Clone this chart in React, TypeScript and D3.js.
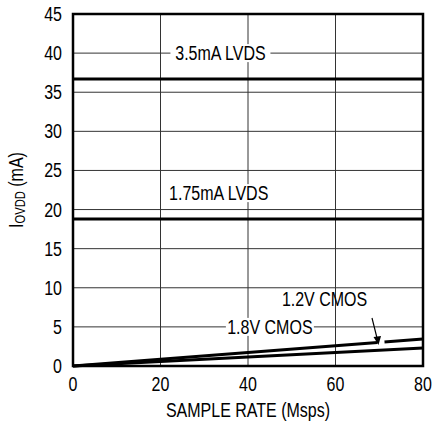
import React from "react";
import * as d3 from "d3";

const xTicks = [0, 20, 40, 60, 80];
const yTicks = [0, 5, 10, 15, 20, 25, 30, 35, 40, 45];
const rates = [0, 80];
const lvds35 = [36.7, 36.7];
const lvds175 = [18.8, 18.8];
const cmos18 = [0, 3.45];
const cmos12 = [0, 2.3];

const W = 433, H = 423;
const M = { left: 73, right: 423, top: 14, bottom: 366 };
const FONT = "'Liberation Sans', Arial, sans-serif";
const SX = 0.8;
const FS = 20;

function T({ x, y, anchor = "start", children, size = FS }: any) {
  return (
    <text transform={`translate(${x},${y}) scale(${SX},1)`} textAnchor={anchor} fontSize={size} fontFamily={FONT} fill="#000">
      {children}
    </text>
  );
}

export default function App() {
  const x = d3.scaleLinear().domain([0, 80]).range([M.left, M.right]);
  const y = d3.scaleLinear().domain([0, 45]).range([M.bottom, M.top]);
  const line = (vals: number[]) =>
    d3.line<number>().x((_, i) => x(rates[i])).y((d) => y(d))(vals) as string;

  const label = (text: string, cx: number, cy: number, w: number) => (
    <g>
      <rect x={cx - w / 2} y={cy - 9} width={w} height={18} fill="#fff" />
      <T x={cx} y={cy + 7} anchor="middle">{text}</T>
    </g>
  );

  return (
    <svg width={W} height={H} style={{ position: "absolute", left: 0, top: 0, background: "#fff" }}>
      {xTicks.slice(1, -1).map((t) => (
        <line key={"gx" + t} x1={x(t)} x2={x(t)} y1={M.top} y2={M.bottom} stroke="#333" strokeWidth={1} />
      ))}
      {yTicks.slice(1, -1).map((t) => (
        <line key={"gy" + t} x1={M.left} x2={M.right} y1={y(t)} y2={y(t)} stroke="#333" strokeWidth={1} />
      ))}
      <path d={line(lvds35)} stroke="#000" strokeWidth={3} fill="none" />
      <path d={line(lvds175)} stroke="#000" strokeWidth={3} fill="none" />
      <path d={line(cmos18)} stroke="#000" strokeWidth={3} fill="none" />
      <path d={line(cmos12)} stroke="#000" strokeWidth={3} fill="none" />
      <line x1={x(69.6)} x2={x(71.2)} y1={y(3.45 * (69.6 / 80))} y2={y(3.45 * (71.2 / 80))} stroke="#fff" strokeWidth={5} />
      {label("3.5mA LVDS", x(33.7), y(40), 100)}
      {label("1.75mA LVDS", x(33.3), y(22.1), 108)}
      {label("1.8V CMOS", x(45), y(5), 88)}
      <T x={x(57.5)} y={y(7.7)} anchor="middle">1.2V CMOS</T>
      <line x1={372} y1={318} x2={377} y2={338} stroke="#000" strokeWidth={1.2} />
      <path d="M373.5,337 L381,336 L378.5,345 Z" fill="#000" />
      <rect x={M.left} y={M.top} width={M.right - M.left} height={M.bottom - M.top} fill="none" stroke="#000" strokeWidth={2.5} />
      {yTicks.map((t) => (
        <T key={"ty" + t} x={M.left - 11} y={y(t) + 7} anchor="end">{t}</T>
      ))}
      {xTicks.map((t) => (
        <T key={"tx" + t} x={x(t)} y={391} anchor="middle">{t}</T>
      ))}
      <T x={(M.left + M.right) / 2} y={417} anchor="middle">SAMPLE RATE (Msps)</T>
      <text transform={`translate(23,${(M.top + M.bottom) / 2}) rotate(-90) scale(${SX},1)`} textAnchor="middle" fontSize={FS} fontFamily={FONT}>
        I<tspan fontSize={14} dy={2}>OVDD</tspan><tspan dy={-2}> (mA)</tspan>
      </text>
    </svg>
  );
}
